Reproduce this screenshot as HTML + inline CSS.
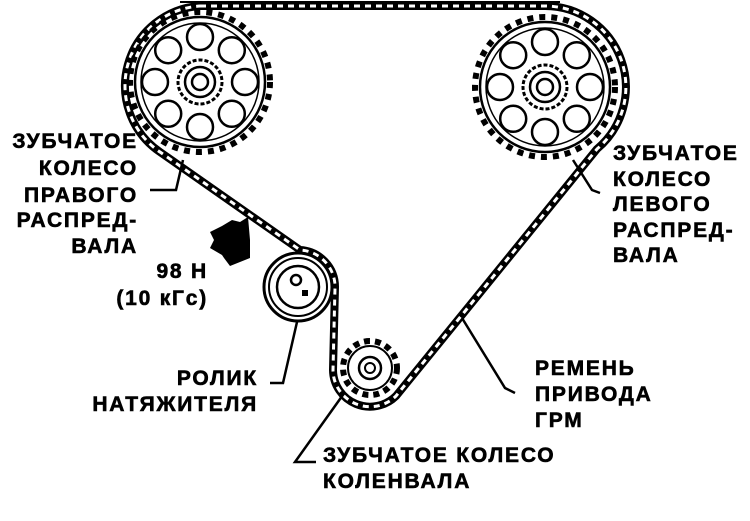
<!DOCTYPE html>
<html><head><meta charset="utf-8"><style>
html,body{margin:0;padding:0;background:#fff;}
svg{display:block;}
text{font-family:"Liberation Sans",sans-serif;font-weight:bold;font-size:21px;letter-spacing:1.8px;fill:#000;stroke:#000;stroke-width:0.6px;}
</style></head><body>
<svg width="750" height="521" viewBox="0 0 750 521" xmlns="http://www.w3.org/2000/svg">
<defs>
<g id="cam">
  <circle r="70" fill="#fff" stroke="#000" stroke-width="6" stroke-dasharray="6 6"/>
  <circle r="65" fill="#fff" stroke="#000" stroke-width="2.5"/>
  <circle r="59" fill="none" stroke="#000" stroke-width="1.5"/>
  <g fill="#fff" stroke="#000" stroke-width="2.5">
    <circle cx="45" cy="0" r="13"/><circle cx="31.8" cy="31.8" r="13"/>
    <circle cx="0" cy="45" r="13"/><circle cx="-31.8" cy="31.8" r="13"/>
    <circle cx="-45" cy="0" r="13"/><circle cx="-31.8" cy="-31.8" r="13"/>
    <circle cx="0" cy="-45" r="13"/><circle cx="31.8" cy="-31.8" r="13"/>
  </g>
  <circle r="22" fill="#fff" stroke="#000" stroke-width="3" stroke-dasharray="4 2"/>
  <circle r="15" fill="none" stroke="#000" stroke-width="2.5"/>
  <circle r="8" fill="none" stroke="#000" stroke-width="2.5"/>
</g>
</defs>
<!-- belt -->
<path d="M200,6 L545,6 A81 81 0 0 1 597,149 L396,396 A37 37 0 0 1 333,370 L335,287 A37 37 0 0 0 300,250 L160,152 A80 80 0 0 1 200,6 Z" fill="none" stroke="#000" stroke-width="8"/>
<path d="M200,6 L545,6 A81 81 0 0 1 597,149 L396,396 A37 37 0 0 1 333,370 L335,287 A37 37 0 0 0 300,250 L160,152 A80 80 0 0 1 200,6 Z" fill="none" stroke="#fff" stroke-width="3" stroke-dasharray="6 5"/>
<line x1="180" y1="2" x2="560" y2="2" stroke="#000" stroke-width="2"/>
<use href="#cam" x="200" y="82"/>
<use href="#cam" x="545" y="87"/>
<!-- tensioner -->
<circle cx="298" cy="287" r="34" fill="#fff" stroke="#000" stroke-width="3"/>
<circle cx="298" cy="287" r="29" fill="none" stroke="#000" stroke-width="2"/>
<circle cx="298" cy="287" r="21" fill="none" stroke="#000" stroke-width="2.5"/>
<circle cx="296" cy="280" r="5" fill="none" stroke="#000" stroke-width="2.5"/>
<rect x="302" y="290" width="6" height="6" fill="#000"/>
<!-- crank -->
<circle cx="370" cy="368" r="27" fill="#fff" stroke="#000" stroke-width="6" stroke-dasharray="6 5"/>
<circle cx="370" cy="368" r="22" fill="#fff" stroke="#000" stroke-width="2"/>
<circle cx="370" cy="368" r="11" fill="none" stroke="#000" stroke-width="2.5"/>
<circle cx="370" cy="368" r="5" fill="none" stroke="#000" stroke-width="2"/>
<!-- blob arrow -->
<polygon points="210,232 222,226 232,220 240,222 248,217 250,240 250,258 240,262 230,266 224,258 222,255 210,248 214,240" fill="#000"/>
<!-- leaders -->
<g fill="none" stroke="#000" stroke-width="2.5">
<polyline points="150,190 176,190 183,160"/>
<polyline points="600,193 592,190 573,160"/>
<polyline points="515,393 505,388 462,318"/>
<polyline points="270,383 283,383 297,322"/>
<polyline points="316,462 295,462 345,392"/>
</g>
<!-- labels -->
<g text-anchor="end">
<text x="138" y="148">ЗУБЧАТОЕ</text>
<text x="138" y="175">КОЛЕСО</text>
<text x="138" y="202">ПРАВОГО</text>
<text x="138" y="227">РАСПРЕД-</text>
<text x="138" y="253">ВАЛА</text>
<text x="208" y="278">98 Н</text>
<text x="208" y="305">(10 кГс)</text>
<text x="258" y="385">РОЛИК</text>
<text x="258" y="411">НАТЯЖИТЕЛЯ</text>
</g>
<text x="613" y="160">ЗУБЧАТОЕ</text>
<text x="613" y="186">КОЛЕСО</text>
<text x="613" y="211">ЛЕВОГО</text>
<text x="613" y="237">РАСПРЕД-</text>
<text x="613" y="262">ВАЛА</text>
<text x="535" y="375">РЕМЕНЬ</text>
<text x="535" y="401">ПРИВОДА</text>
<text x="535" y="427">ГРМ</text>
<text x="323" y="462">ЗУБЧАТОЕ КОЛЕСО</text>
<text x="323" y="488">КОЛЕНВАЛА</text>
</svg>
</body></html>
